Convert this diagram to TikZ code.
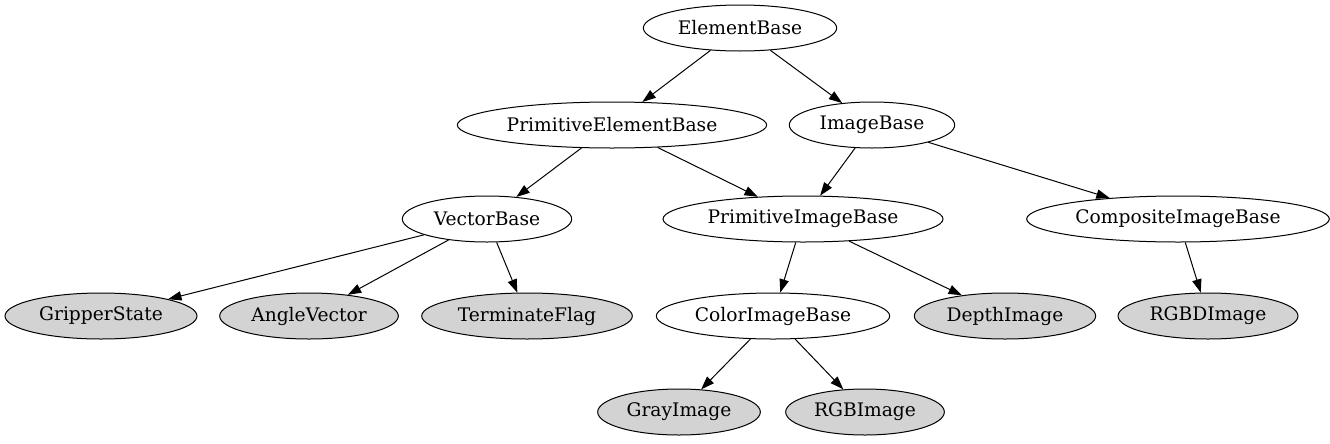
\documentclass[tikz,border=0pt]{standalone}
\usepackage{fontspec}
\setmainfont{DejaVu Serif}
\usepackage{tikz}
\usetikzlibrary{arrows.meta,shapes.geometric}
\definecolor{leafgray}{HTML}{D3D3D3}

\begin{document}
\begin{tikzpicture}[
  x=0.75pt,y=-0.75pt,
  cls/.style={ellipse,draw=black,line width=0.75pt,fill=white,minimum height=34.5pt,
              inner sep=0pt,font=\fontsize{14pt}{16pt}\selectfont},
  leaf/.style={cls,fill=leafgray},
  a/.style={-{Triangle[length=10pt,width=7pt]},line width=0.75pt,black}]
\useasboundingbox (0,0) rectangle (1330,443);
% row 1
\node[cls,minimum width=145pt] (elem) at (740,28) {ElementBase};
% row 2
\node[cls,minimum width=232pt] (primelem) at (612,125) {PrimitiveElementBase};
\node[cls,minimum width=124pt] (img) at (872,125) {ImageBase};
% row 3
\node[cls,minimum width=127pt] (vec) at (487,219) {VectorBase};
\node[cls,minimum width=210pt] (primimg) at (803,219) {PrimitiveImageBase};
\node[cls,minimum width=227pt] (compimg) at (1178,219) {CompositeImageBase};
% row 4
\node[leaf,minimum width=144pt] (gripper) at (101,316) {GripperState};
\node[leaf,minimum width=134pt] (angle) at (309,316) {AngleVector};
\node[leaf,minimum width=158pt] (term) at (527,316) {TerminateFlag};
\node[cls,minimum width=175pt] (colorimg) at (773,316) {ColorImageBase};
\node[leaf,minimum width=136pt] (depth) at (1005,316) {DepthImage};
\node[leaf,minimum width=135pt] (rgbd) at (1208,316) {RGBDImage};
% row 5
\node[leaf,minimum width=122pt] (gray) at (679,412) {GrayImage};
\node[leaf,minimum width=119pt] (rgb) at (865,412) {RGBImage};
% edges
\draw[a] (elem) -- (primelem);
\draw[a] (elem) -- (img);
\draw[a] (primelem) -- (vec);
\draw[a] (primelem) -- (primimg);
\draw[a] (img) -- (primimg);
\draw[a] (img) -- (compimg);
\draw[a] (vec) -- (gripper);
\draw[a] (vec) -- (angle);
\draw[a] (vec) -- (term);
\draw[a] (primimg) -- (colorimg);
\draw[a] (primimg) -- (depth);
\draw[a] (compimg) -- (rgbd);
\draw[a] (colorimg) -- (gray);
\draw[a] (colorimg) -- (rgb);
\end{tikzpicture}
\end{document}
